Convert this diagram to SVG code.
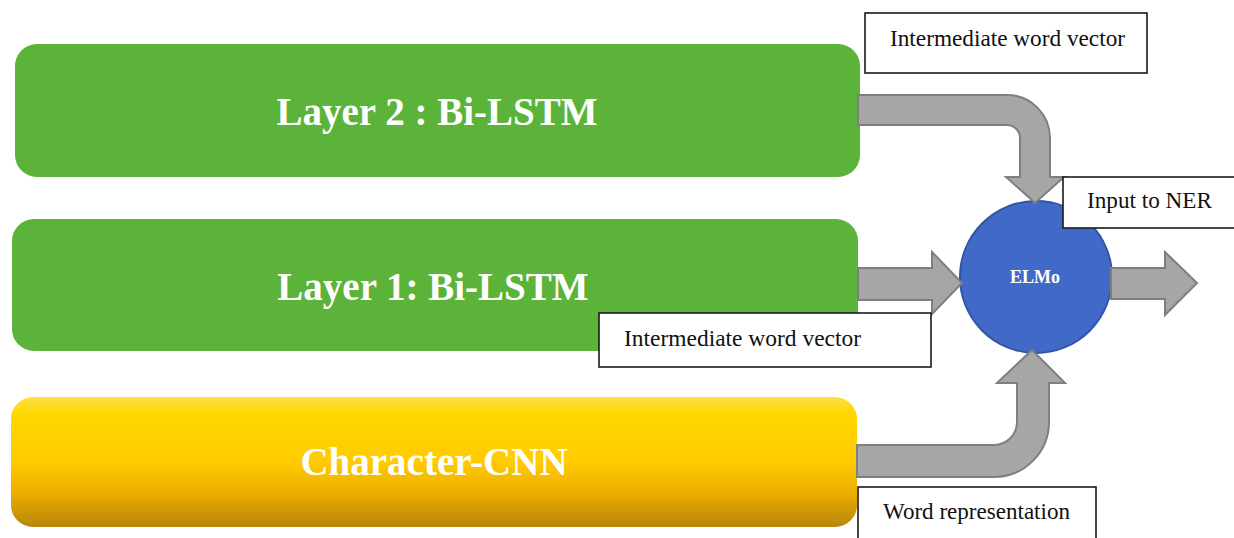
<svg xmlns="http://www.w3.org/2000/svg" width="1234" height="538" viewBox="0 0 1234 538">
<defs>
<linearGradient id="gold" x1="0" y1="0" x2="0" y2="1">
<stop offset="0" stop-color="#FFE04A"/>
<stop offset="0.12" stop-color="#FFD700"/>
<stop offset="0.5" stop-color="#FFCB00"/>
<stop offset="0.75" stop-color="#E9AC00"/>
<stop offset="1" stop-color="#B8860B"/>
</linearGradient>
<style>
.green{fill:#5BB33A}
.title{font-family:"Liberation Serif","Times New Roman",serif;font-weight:bold;font-size:39px;fill:#ffffff;text-anchor:middle}
.lbl{fill:#ffffff;stroke:#1a1a1a;stroke-width:1.6}
.lt{font-family:"Liberation Serif","Times New Roman",serif;font-size:23px;fill:#111111}
.arrow{fill:#A6A6A6;stroke:#7F7F7F;stroke-width:2;stroke-linejoin:miter}
</style>
</defs>
<rect width="1234" height="538" fill="#ffffff"/>
<g id="layer2">
<rect class="green" x="15" y="44" width="845" height="133" rx="22"/>
<text class="title" x="437" y="125">Layer 2 : Bi-LSTM</text>
</g>
<g id="layer1">
<rect class="green" x="12" y="219" width="846" height="132" rx="22"/>
<text class="title" x="433" y="300">Layer 1: Bi-LSTM</text>
</g>
<g id="charcnn">
<rect x="11" y="397" width="846" height="130" rx="22" fill="url(#gold)"/>
<text class="title" x="434" y="475">Character-CNN</text>
</g>
<g id="elmo">
<circle cx="1036" cy="277" r="76" fill="#4169C8" stroke="#2F55A5" stroke-width="2"/>
<text x="1035" y="283" font-family="Liberation Serif, Times New Roman, serif" font-weight="bold" font-size="18" fill="#ffffff" text-anchor="middle">ELMo</text>
</g>
<g id="connectors">
<path class="arrow" d="M858,95 H1007 A43,43 0 0 1 1050,138 V177 H1064 L1035,203 L1006,177 H1020 V138 A13,13 0 0 0 1007,125 H858 Z"/>
<path class="arrow" d="M858,268 H932 V252 L962,283 L932,314 V300 H858 Z"/>
<path class="arrow" d="M1111,268 H1165 V252 L1197,283 L1165,315 V299 H1111 Z"/>
<path class="arrow" d="M857,445 H994 A23,23 0 0 0 1017,422 V383 H997 L1032,350 L1065,383 H1049 V422 A55,55 0 0 1 994,477 H857 Z"/>
</g>
<g id="label-top">
<rect class="lbl" x="865" y="13" width="282" height="60"/>
<text class="lt" x="890" y="46" textLength="235" lengthAdjust="spacingAndGlyphs">Intermediate word vector</text>
</g>
<g id="label-ner">
<rect class="lbl" x="1063" y="177" width="180" height="51"/>
<text class="lt" x="1087" y="208" textLength="125" lengthAdjust="spacingAndGlyphs">Input to NER</text>
</g>
<g id="label-mid">
<rect class="lbl" x="599" y="313" width="332" height="54"/>
<text class="lt" x="624" y="346" textLength="237" lengthAdjust="spacingAndGlyphs">Intermediate word vector</text>
</g>
<g id="label-word">
<rect class="lbl" x="858" y="487" width="238" height="60"/>
<text class="lt" x="883" y="519" textLength="187" lengthAdjust="spacingAndGlyphs">Word representation</text>
</g>
</svg>
